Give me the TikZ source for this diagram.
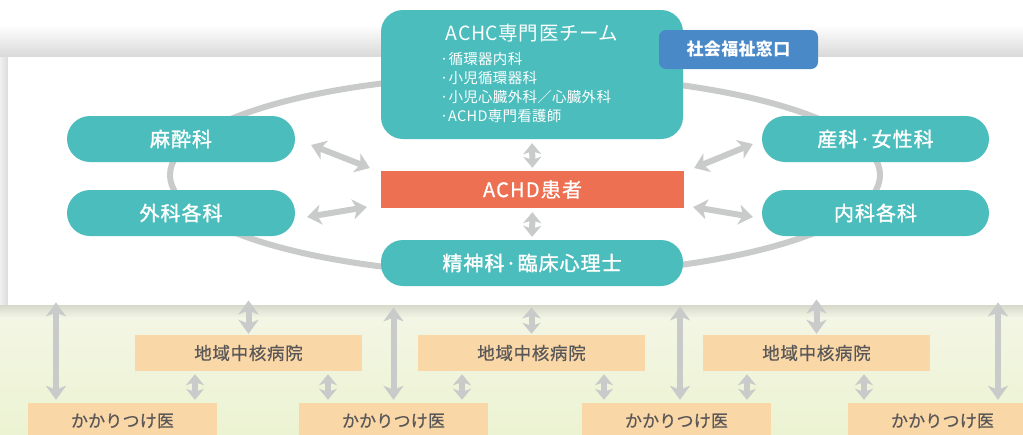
\documentclass[tikz,border=0pt]{standalone}
\usepackage{fontspec}
\setmainfont{Noto Sans CJK JP}
\usetikzlibrary{arrows.meta}
\definecolor{tealc}{HTML}{4BBDBC}
\definecolor{orangec}{HTML}{EE7052}
\definecolor{bluec}{HTML}{4A89C8}
\definecolor{peachc}{HTML}{FAD7A6}
\definecolor{arrowc}{HTML}{C9CACA}
\definecolor{darktext}{HTML}{595757}
\definecolor{bgtop}{HTML}{F4F6E6}
\definecolor{bgbot}{HTML}{ECF3D2}
\begin{document}
\begin{tikzpicture}[x=1pt,y=-1pt,
  pill/.style={fill=tealc, rounded corners=23pt, minimum width=228pt, minimum height=46pt, inner sep=0pt,
    text=white, font=\fontsize{20}{22}\selectfont\addfontfeature{LetterSpace=5,FakeBold=1.4}},
  hosp/.style={fill=peachc, minimum width=227pt, minimum height=36pt, inner sep=0pt,
    text=darktext, font=\fontsize{17.5}{19}\selectfont\addfontfeature{LetterSpace=4,FakeBold=0.6}},
  clinic/.style={fill=peachc, minimum width=189pt, minimum height=36pt, inner sep=0pt,
    text=darktext, font=\fontsize{17}{19}\selectfont\addfontfeature{LetterSpace=1,FakeBold=0.6}},
  dbl/.style={draw=arrowc, line width=6pt,
    {Stealth[length=14pt,width=20pt,inset=4pt]}-{Stealth[length=14pt,width=20pt,inset=4pt]}},
  dbls/.style={draw=arrowc, line width=6pt,
    {Stealth[length=11pt,width=18pt,inset=3pt]}-{Stealth[length=11pt,width=18pt,inset=3pt]}},
  ring/.style={draw=arrowc, line width=6pt}]
\useasboundingbox (0,0) rectangle (1023,434);
\clip (0,0) rectangle (1023,434);
% background
\fill[white] (0,0) rectangle (1023,434);
\shade[top color=white, bottom color=black!15] (0,25) rectangle (1023,57);
\shade[left color=black!6, right color=black!14] (0,57) rectangle (8,305);
\shade[top color=bgtop, bottom color=bgbot] (0,305) rectangle (1023,434);
\shade[top color=black!12!bgtop, bottom color=bgtop] (0,305) rectangle (1023,318);
\node[fill=white, inner sep=0pt, minimum width=1030pt, minimum height=248pt, anchor=north west] (panel) at (8,57) {};
% ring
\draw[ring] (525,175) ellipse [x radius=355, y radius=100];
% nodes
\node[fill=tealc, rounded corners=22pt, minimum width=302pt, minimum height=129pt, inner sep=0pt] (achc) at (532,74.5) {};
\node[text=white, font=\fontsize{19.5}{21}\selectfont\addfontfeature{LetterSpace=3}] (achct) at (532,33) {ACHC専門医チーム};
\node[text=white, anchor=north west, align=left, inner sep=0pt,
  font=\fontsize{14.5}{19}\selectfont\addfontfeature{LetterSpace=2}] (achcl) at (440,52)
  {·循環器内科\\·小児循環器科\\·小児心臓外科／心臓外科\\·ACHD専門看護師};
\node[fill=bluec, rounded corners=7pt, minimum width=159pt, minimum height=39pt, inner sep=0pt, text=white,
  font=\fontsize{17}{19}\selectfont\bfseries\addfontfeature{LetterSpace=2}] (shakai) at (738.5,49.5) {社会福祉窓口};
\node[pill] (masui) at (181,139) {麻酔科};
\node[pill] (geka) at (181,213) {外科各科};
\node[pill, minimum width=227pt] (sanka) at (875.5,139) {産科·女性科};
\node[pill, minimum width=227pt] (naika) at (875.5,213) {内科各科};
\node[fill=orangec, minimum width=303pt, minimum height=37pt, inner sep=0pt, text=white,
  font=\fontsize{20}{22}\selectfont\addfontfeature{LetterSpace=6,FakeBold=0.8}] (achd) at (532.5,189.5) {ACHD患者};
\node[pill, minimum width=302pt, rounded corners=22pt] (seishin) at (532,263) {精神科·臨床心理士};
\node[hosp] (chiiki1) at (248.5,353) {地域中核病院};
\node[hosp] (chiiki2) at (531.5,353) {地域中核病院};
\node[hosp] (chiiki3) at (816.5,353) {地域中核病院};
\node[clinic] (kakari1) at (122.5,421) {かかりつけ医};
\node[clinic] (kakari2) at (393.5,421) {かかりつけ医};
\node[clinic] (kakari3) at (676.5,421) {かかりつけ医};
\node[clinic] (kakari4) at (942.5,421) {かかりつけ医};
% arrows around patient
\draw[dbl] ([shift={(16,6)}]masui.east) -- ([shift={(-11,-21.5)}]achd.west);
\draw[dbl] ([shift={(12,4)}]geka.east) -- ([shift={(-14,17.5)}]achd.west);
\draw[dbl] ([shift={(-9,5)}]sanka.west) -- ([shift={(10,-21.5)}]achd.east);
\draw[dbl] ([shift={(-9,4)}]naika.west) -- ([shift={(9,17.5)}]achd.east);
\draw[dbls, shorten <=4pt, shorten >=3pt] (achc.south) -- (achd.north);
\draw[dbls, shorten <=4pt, shorten >=3pt] (achd.south) -- (seishin.north);
% panel to hospitals
\draw[dbl, shorten <=-5pt, shorten >=1pt] (panel.south -| chiiki1.north) -- (chiiki1.north);
\draw[dbls, shorten <=2pt, shorten >=1pt] (panel.south -| chiiki2.north) -- (chiiki2.north);
\draw[dbl, shorten <=-6pt, shorten >=1pt] (panel.south -| chiiki3.north) -- (chiiki3.north);
% panel to clinics
\coordinate (a1) at ([xshift=-66.5pt]kakari1.north);
\coordinate (a2) at (kakari2.north);
\coordinate (a3) at ([xshift=3.5pt]kakari3.north);
\coordinate (a4) at ([xshift=55.5pt]kakari4.north);
\draw[dbl, shorten <=-3pt, shorten >=3pt] (panel.south -| a1) -- (a1);
\draw[dbl, shorten <=2pt, shorten >=3pt] (panel.south -| a2) -- (a2);
\draw[dbl, shorten <=1pt, shorten >=3pt] (panel.south -| a3) -- (a3);
\draw[dbl, shorten <=-3pt, shorten >=3pt] (panel.south -| a4) -- (a4);
% hospitals to clinics
\draw[dbls, shorten <=3pt, shorten >=3pt] ([xshift=-53.5pt]chiiki1.south) -- ([xshift=72.5pt]kakari1.north);
\draw[dbls, shorten <=3pt, shorten >=3pt] ([xshift=79.5pt]chiiki1.south) -- ([xshift=-65.5pt]kakari2.north);
\draw[dbls, shorten <=3pt, shorten >=3pt] ([xshift=-69.5pt]chiiki2.south) -- ([xshift=68.5pt]kakari2.north);
\draw[dbls, shorten <=3pt, shorten >=3pt] ([xshift=72.5pt]chiiki2.south) -- ([xshift=-72.5pt]kakari3.north);
\draw[dbls, shorten <=3pt, shorten >=3pt] ([xshift=-69.5pt]chiiki3.south) -- ([xshift=70.5pt]kakari3.north);
\draw[dbls, shorten <=3pt, shorten >=3pt] ([xshift=47.5pt]chiiki3.south) -- ([xshift=-78.5pt]kakari4.north);
\end{tikzpicture}
\end{document}
